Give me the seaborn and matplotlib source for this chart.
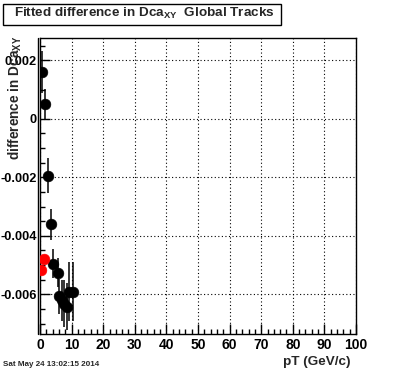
import numpy as np
import pandas as pd
import matplotlib
matplotlib.use("Agg")
import matplotlib.pyplot as plt
import matplotlib.transforms as mtransforms
import seaborn as sns
from matplotlib.patches import Rectangle
from matplotlib.lines import Line2D
from matplotlib.ticker import FixedLocator, MultipleLocator, FixedFormatter

# ---- data ----
pt_black = [0.5, 1.5, 2.5, 3.5, 4.2, 5.6, 6.1, 7.0, 7.6, 8.4, 9.2, 10.3]
diff_black = [0.00160, 0.00051, -0.00194, -0.00360, -0.00495, -0.00526,
              -0.00607, -0.00620, -0.00632, -0.00643, -0.00591, -0.00591]
err_black = [0.00072, 0.00050, 0.00060, 0.00053, 0.00050, 0.00050,
             0.00060, 0.00070, 0.00080, 0.00080, 0.00100, 0.00100]
pt_red = [0.3, 1.4]
diff_red = [-0.00517, -0.00478]

x_ticks = [0, 10, 20, 30, 40, 50, 60, 70, 80, 90, 100]
x_tick_labels = ["0", "10", "20", "30", "40", "50", "60", "70", "80", "90", "100"]
y_ticks = [-0.006, -0.004, -0.002, 0.0, 0.002]
y_tick_labels = ["-0.006", "-0.004", "-0.002", "0", "0.002"]

title_text = r"Fitted difference in Dca$_{\mathrm{XY}}$  Global Tracks"
ylabel_text = r"difference in Dca$_{\mathrm{XY}}$"
xlabel_text = "pT (GeV/c)"
date_text = "Sat May 24 13:02:15 2014"

# ---- style ----
sns.set_theme(style="white")
plt.rcParams["font.family"] = ["Liberation Sans", "DejaVu Sans"]
plt.rcParams["font.weight"] = "bold"
plt.rcParams["mathtext.fontset"] = "custom"
plt.rcParams["mathtext.rm"] = "Liberation Sans:bold"
plt.rcParams["mathtext.bf"] = "Liberation Sans:bold"
plt.rcParams["mathtext.it"] = "Liberation Sans:bold"
plt.rcParams["axes.unicode_minus"] = False

W, H = 396, 372
fig = plt.figure(figsize=(W / 100, H / 100), dpi=100)
fig.patch.set_facecolor("white")
ax = fig.add_axes([40 / W, 1 - 333.5 / H, (356 - 40) / W, (333.5 - 37.5) / H])
ax.set_facecolor("white")

black_df = pd.DataFrame({"pt": pt_black, "diff": diff_black, "err": err_black})
red_df = pd.DataFrame({"pt": pt_red, "diff": diff_red})

ax.errorbar(black_df["pt"], black_df["diff"], yerr=black_df["err"], fmt="none",
            ecolor="black", elinewidth=1.1, capsize=0, zorder=3)
sns.scatterplot(data=black_df, x="pt", y="diff", ax=ax, color="black", s=60,
                edgecolor="black", linewidth=0.4, zorder=4, legend=False)
sns.scatterplot(data=red_df, x="pt", y="diff", ax=ax, color="#ff0000", s=60,
                edgecolor="#ff0000", linewidth=0.4, zorder=4, legend=False)

ax.set_xlim(0, 100)
ax.set_ylim(-0.00734, 0.00278)

ax.xaxis.set_major_locator(FixedLocator(x_ticks))
ax.xaxis.set_major_formatter(FixedFormatter(x_tick_labels))
ax.xaxis.set_minor_locator(MultipleLocator(2))
ax.yaxis.set_major_locator(FixedLocator(y_ticks))
ax.yaxis.set_major_formatter(FixedFormatter(y_tick_labels))
ax.yaxis.set_minor_locator(MultipleLocator(0.0005))

ax.tick_params(axis="both", which="major", direction="in", length=7, width=1,
               color="black", labelcolor="black")
ax.tick_params(axis="both", which="minor", direction="in", length=3.5, width=1,
               color="black")
ax.tick_params(axis="x", which="both", bottom=True, top=False, pad=3.5, labelsize=10)
ax.tick_params(axis="y", which="both", left=True, right=False, pad=2.5, labelsize=9.2)
for lab in ax.get_xticklabels() + ax.get_yticklabels():
    lab.set_fontweight("bold")

ax.grid(True, which="major", color="black", linestyle=(0, (1, 2.2)), linewidth=0.8)
ax.set_axisbelow(True)
for s in ax.spines.values():
    s.set_color("black")
    s.set_linewidth(1.0)
    s.set_visible(True)

ax.set_xlabel("")
ax.set_ylabel("")

# second vertical line just left of the y axis (as in the reference)
off = mtransforms.offset_copy(ax.transAxes, fig=fig, x=-2, y=0, units="dots")
ax.add_line(Line2D([0, 0], [0, 1], transform=off, color="black", lw=1.0,
                   clip_on=False))

# title box
fig.patches.append(Rectangle((3 / W, 1 - 24.5 / H), (281 - 3) / W, (24.5 - 3.5) / H,
                             transform=fig.transFigure, facecolor="white",
                             edgecolor="black", linewidth=1.0))
fig.text(14 / W, 1 - 13.5 / H, title_text, fontsize=9.7, fontweight="bold",
         ha="left", va="center")

# axis labels
fig.text(15.5 / W, 1 - 36 / H, ylabel_text, fontsize=9.8, fontweight="bold",
         rotation=90, ha="center", va="top")
fig.text(350.5 / W, 1 - 361.5 / H, xlabel_text, fontsize=9.7, fontweight="bold",
         ha="right", va="center")
fig.text(3 / W, 1 - 364.5 / H, date_text, fontsize=5.8, fontweight="bold",
         ha="left", va="center")

fig.savefig("out.png", dpi=100, facecolor="white")
